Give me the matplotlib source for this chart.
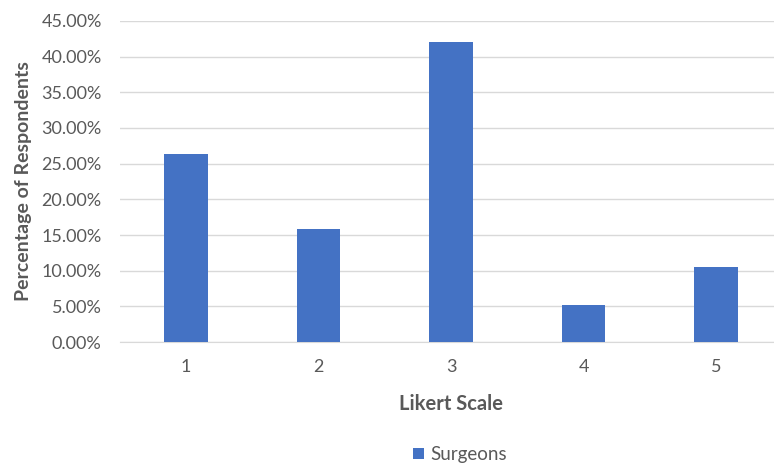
import matplotlib.pyplot as plt
from matplotlib.ticker import PercentFormatter

categories = ["1", "2", "3", "4", "5"]
surgeons = [26.32, 15.79, 42.11, 5.26, 10.53]

plt.rcParams['font.family'] = ['Lato', 'DejaVu Sans']
text_color = '#595959'

fig = plt.figure(figsize=(7.74, 4.66), dpi=100)
# plot area runs slightly past the right edge of the image, as in the reference
ax = fig.add_axes([0.1547, 0.266, 0.856, 0.689])

x = range(len(categories))
ax.bar(x, surgeons, width=0.325, color='#4472c4', label='Surgeons', zorder=3)

ax.set_xlim(-0.5, len(categories) - 0.5)
ax.set_ylim(0, 45)
ax.set_yticks(range(0, 46, 5))
ax.yaxis.set_major_formatter(PercentFormatter(decimals=2))
ax.set_xticks(list(x))
ax.set_xticklabels(categories)

ax.grid(axis='y', color='#d9d9d9', linewidth=1, zorder=0)
for side in ['top', 'right', 'left']:
    ax.spines[side].set_visible(False)
ax.spines['bottom'].set_color('#d9d9d9')
ax.tick_params(length=0, colors=text_color, labelsize=13)
ax.tick_params(axis='x', pad=12)
ax.tick_params(axis='y', pad=13)

ax.set_xlabel('Likert Scale', fontsize=14.5, fontweight='bold', color=text_color, labelpad=14)
ax.set_ylabel('Percentage of Respondents', fontsize=14, fontweight='bold', color=text_color, labelpad=7)

leg = fig.legend(loc='lower center', bbox_to_anchor=(0.594, -0.03), frameon=False,
                 handlelength=0.6, handleheight=0.6, handletextpad=0.3, fontsize=13.5)
for t in leg.get_texts():
    t.set_color(text_color)

fig.savefig('out.png', dpi=100)
